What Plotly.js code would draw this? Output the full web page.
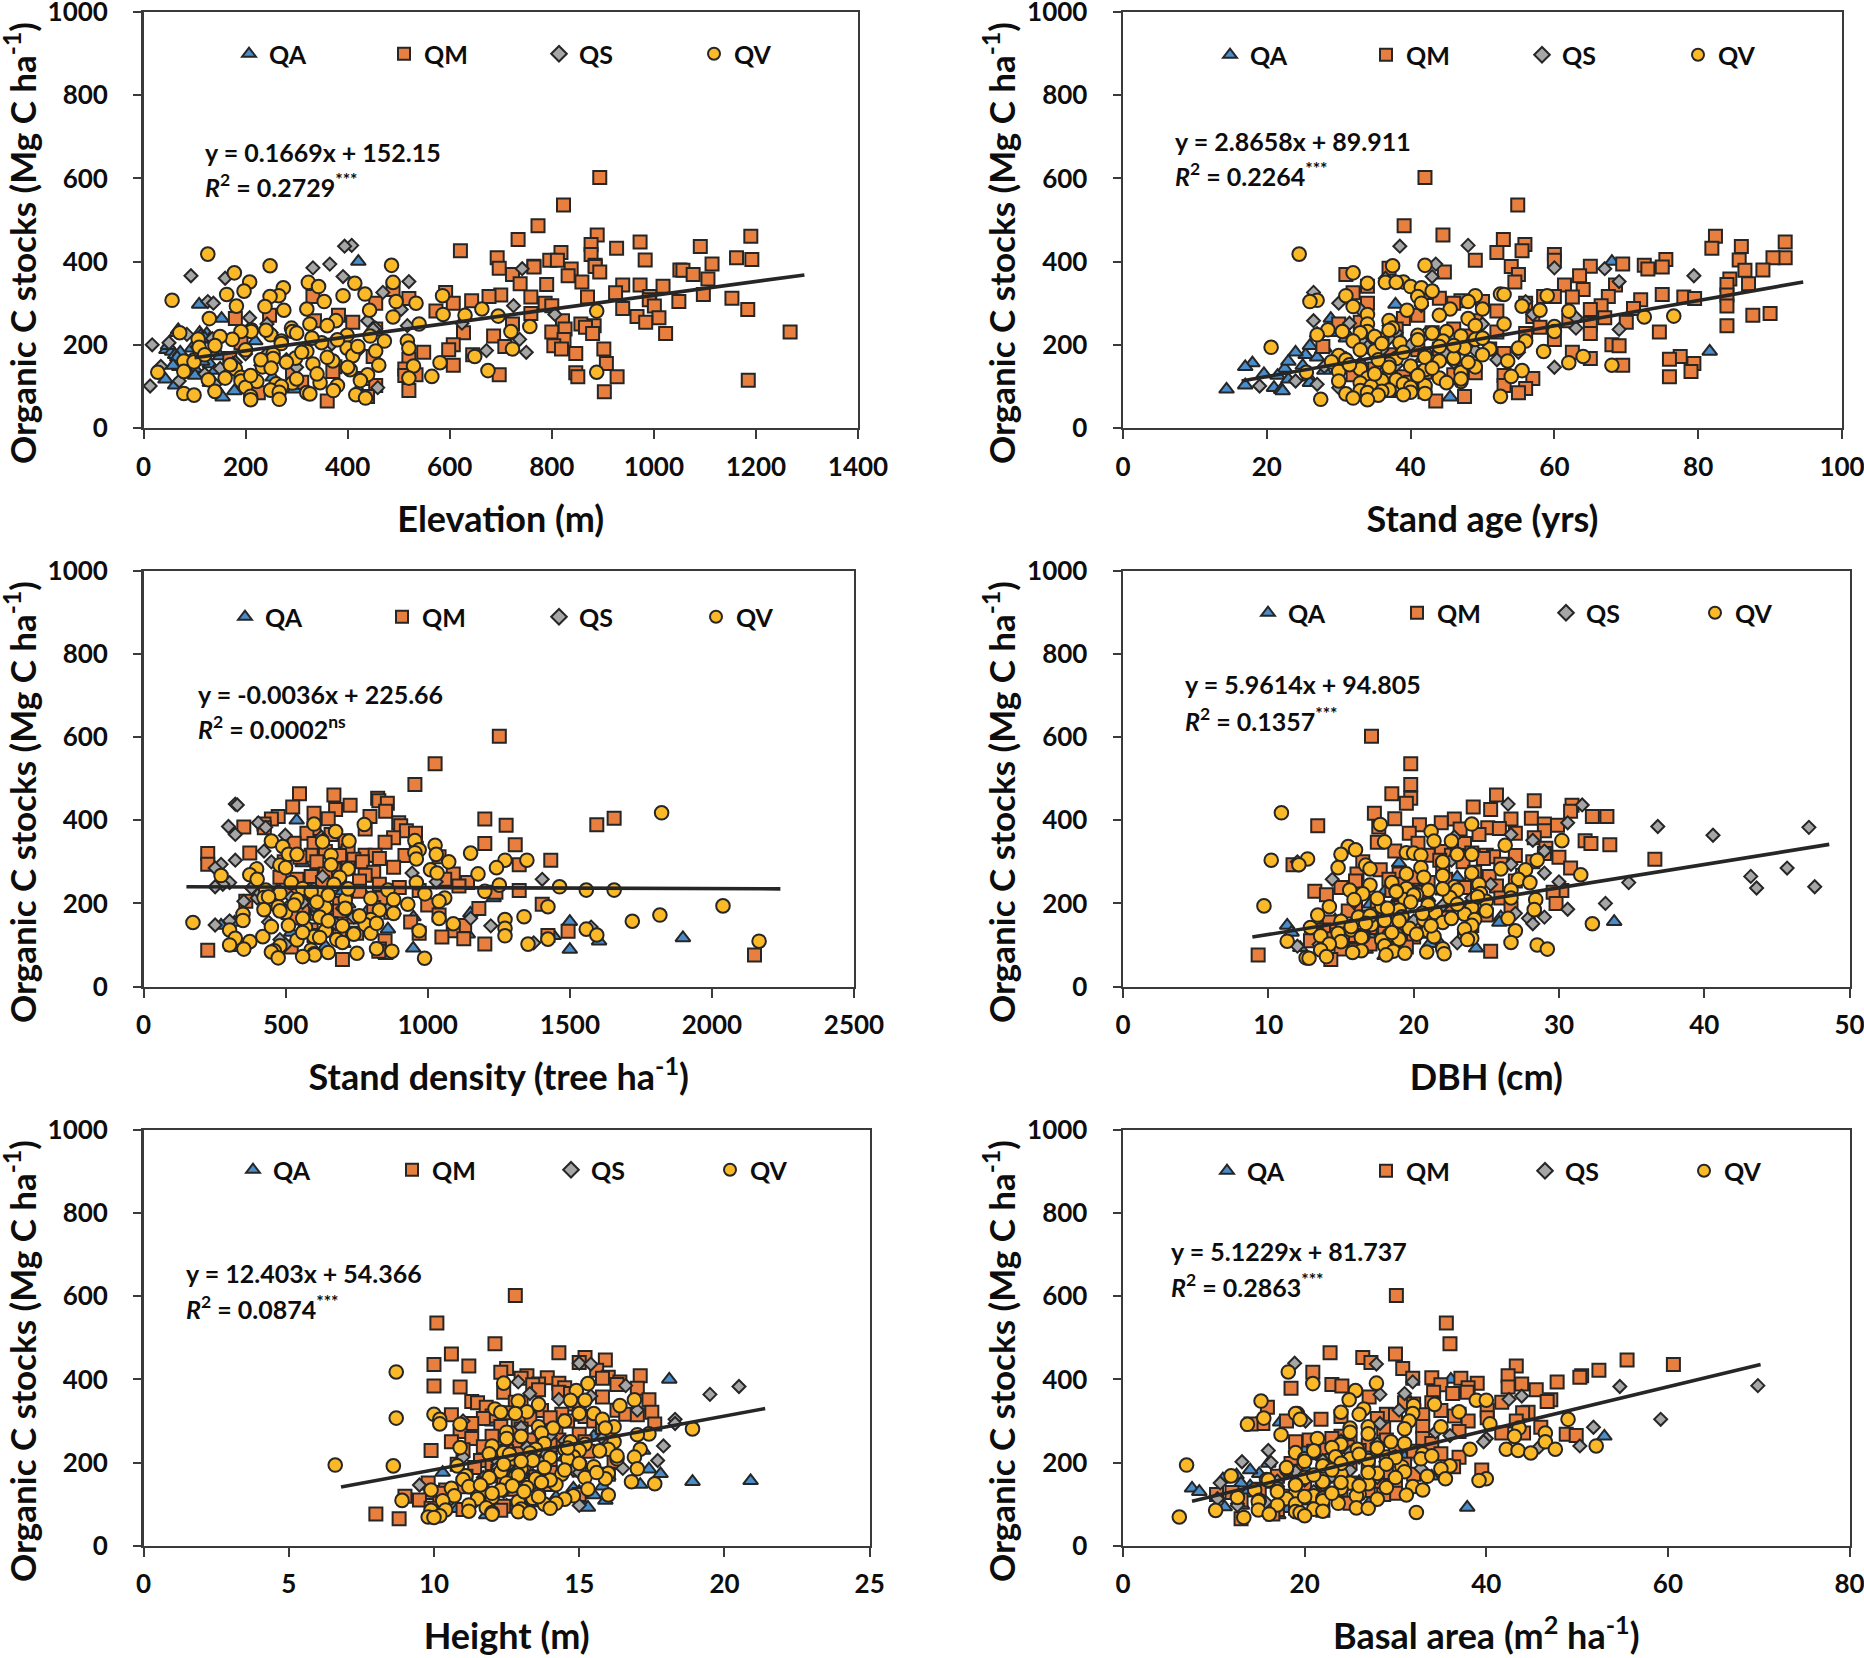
<!DOCTYPE html>
<html><head><meta charset="utf-8">
<script src="https://cdn.plot.ly/plotly-3.0.1.min.js"></script>
<style>html,body{margin:0;padding:0;background:#fff}</style></head>
<body><div id="chart" style="width:1864px;height:1658px"></div>
<script>
// each row: organic C stock, elevation, stand age, stand density, DBH, height, basal area
const QA = [
[400,421,68,539,28.3,18.1,36.1],[297,109,37.9,560,19,12,17.3],[263,153,28.9,620,23,15.5,53],[229,110,31,700,22,17.2,26],
[229,65,29,480,18,13,20],[227,124,27,771,20,14,22],[213,129,33,1232,21,14.5,31],[209,219,35,860,24.8,15,29],
[188,45,27.7,600,16,12.5,20],[184,56,81.6,790,28.3,17.4,18],[176,62,25.4,1150,18,10.3,24],[173,150,36,620,21,17.8,15],
[167,110,41.6,950,26,16,34],[156,80,18,1500,33.8,20.9,22],[154,130,33,320,25.9,18.9,26],[147,70,17,273,11.3,17.1,16],
[143,100,22.5,700,15,15.8,14],[138,140,28,860,13,14.8,7.6],[130,90,19.6,520,11.6,15,8.4],[126,101,21.5,1141,15,11.8,13.6],
[122,253,25.8,1443,17,15.5,10.3],[117,43,23,1898,16.7,14.2,19],[109,130,26,1603,21.7,15.9,21.7],[103,62,17,703,21.1,13.5,27.1],
[97,141,21,640,15.4,12.5,13.1],[93,296,14.4,313,12.2,15.2,11.2],[92,421,22,949,24.3,15.3,37.9],[89,178,22.2,1500,16.7,10.8,18.2],
[74,155,45.5,852,18,11.8,17.1],[236,68,30,540,20.5,14,24],[222,112,34,650,22.5,15,27],[216,120,31,580,19,13.5,21],
[198,48,26,720,17,13,16],[192,95,28,430,18.5,12.8,19],[182,72,24,880,15.5,11.4,14],[170,66,27,510,16.2,13.4,12.5],
[160,115,23,660,14.6,12,11],[150,58,25,790,13.8,11,13]
];
const QM = [
[602,894,42,1252,17.1,12.8,30.1],[536,823,54.9,1026,19.8,10.1,35.6],[486,773,39.1,955,19.8,12.1,36],[464,889,44.5,549,18.5,14.3,22.8],
[461,1190,82.4,670,25.7,10.6,30],[453,734,52.9,824,19.8,15.2,26.4],[447,973,92.1,828,28.3,15.9,55.5],[441,877,55.9,858,19.5,15,27.3],
[436,1091,86,727,30.9,10,60.6],[432,927,81.9,525,24.1,11.2,43.3],[426,621,55.5,676,25.3,12.5,30.8],[422,818,52,852,30.8,15.6,52.4],
[417,877,60,600,17.3,12.3,20.9],[409,693,92.1,474,32.3,17.1,50.5],[409,1162,90.4,797,33.3,13.2,42.4],[405,1192,75.5,1656,28.1,16,50.3],
[404,983,85.7,650,18.7,13.9,34],[403,796,49,450,22.8,15.8,31.9],[403,811,60,1201,26.7,13,37.2],[394,1114,69.5,898,21.9,16.4,47.8],
[391,885,72.5,424,29,14.3,39],[389,765,65,1595,20.4,13.6,43.9],[388,885,54,1276,29.9,16.3,23],[387,765,75,905,13.4,13.4,35],
[384,697,37,353,17.6,10,24.1],[382,838,73,425,25.1,10.9,42.4],[380,1051,89,600,25.9,14.5,38],[379,1057,86.5,780,23.2,17,18.5],
[375,894,44.7,925,29,13.6,45.5],[369,1077,55,957,19.7,12.4,37.9],[369,723,31,575,27,14.3,34.2],[366,832,63.5,660,24.5,14.7,36.3],
[358,1106,84.4,880,28.3,15.8,27.1],[351,859,54.5,710,31.8,17.4,47.1],[347,738,87,850,17.5,11.3,46.7],[345,790,84,530,20.3,12.8,41.7],
[344,939,68.5,600,23.5,13,34],[344,973,61.4,1201,32.2,11.5,31],[341,1018,34,1308,33.5,14.8,32],[333,489,64,960,29.1,11.8,15.9],
[326,592,42.7,720,18.7,16.3,40.1],[325,925,32,640,21.9,13.7,35],[321,1097,75,374,24,17.5,44.6],[320,700,84,226,29,12.6,44],
[316,677,67.5,780,21,15,32],[316,992,60,815,22.6,16.6,29],[316,332,58.5,590,25,14.4,37],[315,759,78,920,27,10.6,33],
[315,870,62.5,690,23,17,30],[312,1153,44,1040,25.5,12,36.5],[311,520,79.5,550,30,15.2,24],[308,991,72,830,24.8,14,40.1],
[306,643,47,740,36.6,11.7,28],[304,1049,50,1433,21.8,13.3,21.8],[300,607,34,610,28.2,12.9,38],[300,787,56,770,23.4,15.5,43.3],
[300,455,46,495,16.5,14.6,18],[294,800,66.5,226,26,11.3,15.4],[293,1001,84,1322,11.7,17.6,14.1],[287,939,71,880,22,12.3,33],
[285,1184,65,720,30.8,15.8,46],[281,573,52,670,17.7,13,28.7],[275,759,90,810,24.2,10.9,37],[271,247,41,640,19,14.2,41.7],
[271,382,87.6,1090,16.1,12.7,44.1],[268,967,57,780,27.5,15,48.8],[265,1010,67,590,25.2,13.8,49.9],[263,180,39,480,20,12,24],
[258,821,62,1060,22.2,16,23],[258,335,49,540,18.3,11.3,33],[254,984,70,760,27,14.3,29],[254,410,33,690,16,13.3,20.5],
[250,857,30,1140,24,10.6,25],[250,723,65,630,21,15.2,19],[246,883,84,830,19,12.8,34],[242,866,58,1110,25.7,14,27],
[238,826,46,520,15,11.7,24.7],[238,455,38,900,23.5,16,30],[231,1267,74.6,1322,30.2,13.4,22],[231,800,52,970,18.5,11,28],
[229,627,43,760,13.2,9.9,26],[227,1023,65,1240,29.6,15.3,32],[227,880,56,590,20.6,12.5,21],[221,686,48,420,14,13,35],
[213,824,60,840,26,14.7,37],[205,191,36,360,17.5,11.6,23],[200,607,68,690,29.8,16.2,25],[198,804,69,1403,22.5,12,18.5],
[196,708,27.8,1000,16,10.8,31],[190,902,44,810,24,14,36.4],[190,819,51,560,19,13.1,23],[188,598,41,1180,26.7,11.4,27],
[182,549,62.5,690,15.5,15,39.5],[179,847,53,870,21,12.2,19],[176,645,37,610,18,14,29],[172,450,77.5,1040,25,16,32],
[167,169,65,740,16.7,11.1,17],[165,520,76,520,22,13.5,22],[155,907,79.4,940,14.2,12.4,28],[151,607,69.5,660,20,9.8,25],
[147,375,47,1130,24,14,30],[142,512,35,800,17,11,20],[136,371,79,590,13.8,12.7,15],[134,292,42,1090,19,10.4,24],
[133,847,49,1494,21,13.3,27],[128,697,32,970,15.5,11.5,12],[128,534,46,750,18,9.9,22],[126,512,53,690,13.3,10.3,30],
[123,851,76,1423,23.5,15,28.7],[123,928,39,600,16,12,10.3],[119,430,57,1050,20,9,18],[115,1185,36,1127,14.5,13.1,20],
[110,310,40,850,12.9,9.5,13],[102,455,53,1201,17,10.2,25],[95,260,56,520,19.5,12.4,15],[90,520,37,830,15,9.9,19],
[87,903,42,226,16,11,17],[85,225,55,828,25.3,12.3,22],[76,439,47.5,2150,9.3,8,16.5],[65,360,43.5,700,14.3,8.8,13]
];
const QS = [
[439,408,48,323,26.5,15,18.9],[437,394,38.5,330,31.6,15.4,27.9],[394,365,43.5,404,30.6,12.9,31.9],[385,332,60,299,36.8,16.6,69.9],
[383,742,67,430,47.2,20.5,54.7],[366,93,79.4,323,26.7,13.3,31],[364,391,43,499,40.6,19.5,28.3],[360,160,36.5,626,22.8,15.4,43.9],
[352,520,69,630,28.2,14.3,42.5],[326,469,26.5,424,29,17,30.4],[304,126,56,323,22.6,18.3,59.2],[300,137,30,450,12,11,20.1],
[294,725,41.5,273,26.7,18.3,28.3],[285,505,33,252,45.7,13,51.8],[273,806,57,945,29,13.6,34.4],[265,208,63,630,43.2,14,36],
[258,439,26.5,1403,14.4,15.8,40],[252,624,31.5,1030,30,14.5,24],[250,242,50,303,34.8,12.5,39.7],[246,517,37,279,25.3,16,28],
[240,455,63,252,47.6,17.9,50.3],[237,450,69,380,43.6,13.2,45.8],[229,250,38,470,20,14.7,16],[213,737,46,400,24,11,26],
[205,50,33.5,353,21,17.7,22],[202,369,45,560,15.9,12.2,13.1],[200,17,40,520,33.2,13.7,16.3],[188,422,36,700,18.6,12.2,18.1],
[186,672,49,860,30.6,16.5,32.8],[182,750,55,640,21.1,14.8,25],[176,240,42,610,27,15,23.8],[167,100,31,740,29,13,23],
[164,280,52,1151,27.9,11.7,28],[158,180,46,303,20,14.2,20],[151,230,38,676,28.2,11.6,10.7],[148,34,28,252,15.8,13.4,26],
[146,300,60,1222,17,9.5,22],[143,150,30,1575,19.4,12.5,17],[113,70,24,480,18.3,10.6,10.4],[105,140,27,1373,23,11.4,15.7],
[101,13,19,500,13.5,13,12.6],[97,459,30,363,12,15,12.6],[225,85,42,410,24.5,13.8,25],[215,135,37,520,20,14.6,30],
[195,105,34,600,22,13,24],[178,200,45,350,24,12.8,19],[155,175,33,440,19,14,17],[130,120,36,580,21,12.4,21]
];
const QV = [
[418,126,24.5,1823,10.9,8.7,18.2],[391,486,42,600,24,12.4,27.9],[390,248,37.5,777,17.7,15.3,20.9],[373,178,32,676,21.2,14.9,25.6],
[351,208,39,955,30.2,16.9,24.9],[350,489,36.5,450,21.4,14.7,38.9],[350,323,38,723,22.6,15.2,40],[348,414,34,630,18,12.9,15.2],
[340,343,40,1026,26.3,13.6,34.3],[337,274,41.5,490,15.5,16.4,32],[329,197,43,970,16,12.1,26.5],[322,434,52.5,955,19.5,13.2,37],
[321,163,53,1151,20,12.3,24],[318,391,31,1030,15,15.5,19.2],[318,265,49,510,23,12.8,19],[316,248,41,660,20.5,10,26],
[318,586,59,540,24,15,31.9],[307,56,27,960,12.7,8.7,15.5],[304,354,48,1349,10.2,10.2,19.5],[304,495,26,1272,28.5,15.8,49],
[300,534,41.5,1074,22,14.5,31.5],[293,182,55.5,660,12.1,10.2,40.4],[292,238,32,480,16.7,10.9,13.7],[286,320,50,1242,14.8,13.6,27],
[286,663,45.5,500,20.5,16.2,35],[283,275,39.5,398,26,15.9,43.6],[283,443,58,720,17,14.1,25],[281,888,62,1010,27.7,18.9,31],
[273,587,34,1033,24,12.5,25],[271,630,44,1177,19.5,13.7,46.5],[269,695,76.6,374,31.5,17.4,27],[267,489,72.5,273,22,17,17.4],
[263,129,48,690,20.7,13,43.1],[258,377,37,400,27.2,12.5,21.4],[250,540,34,520,28,16.2,46.5],[250,326,53,960,18.5,14.7,29.5],
[244,757,60,1252,17,15.2,24],[246,360,49,670,24.5,13.8,31],[240,290,37.5,1464,22.8,12,52.1],[236,211,28.5,560,19.5,10.9,23],
[232,720,60,1656,26.7,17.1,47.6],[232,292,45,860,23,14.5,38.2],[232,211,34,430,15.6,16,42.2],[232,191,30.5,1558,21,13.5,25.8],
[229,71,33,1201,18.8,15,43.5],[224,249,27,480,24.6,12.4,19],[223,399,41,990,16.5,13.3,44.9],[221,444,47,620,20.2,11.9,33],
[214,107,36,424,22.5,14.8,23.4],[213,174,49,1060,26.7,16.9,29],[209,270,44.5,710,15.9,16.3,25],[209,472,32,540,28.4,12.7,20],
[209,517,56,880,19.4,14.6,32.8],[205,349,38.5,1040,25,13.4,27],[194,109,20.6,2039,9.7,6.6,7],[192,399,47.5,474,14.2,8.6,22],
[192,520,55,1423,17.8,10.8,36],[190,723,51,640,24,15.5,30.7],[185,455,35,424,28.3,17,35],[184,320,58.5,830,19,13,18],
[178,254,42,500,21.5,12.3,31],[172,649,64,1817,13.4,14.4,24],[174,410,30,350,23.5,16,28],[168,298,46,1339,19.2,11.1,11.9],
[167,254,38,620,16.2,12.8,33.5],[164,99,31,1040,26.5,15.2,20],[161,79,53.5,1272,20.7,15.9,35.5],[161,371,44,800,24.2,13.5,40],
[159,99,29,350,18,11,15.8],[157,581,62,1720,15,14,39.2],[154,332,37,174,22,16.8,22],[151,461,68,1090,32.3,12.5,25],
[149,529,40,780,17.1,17.6,27],[147,233,49,510,24,14.2,19],[142,180,33,570,12.9,11.2,31.9],[140,405,42,1272,19.7,13.2,29],
[138,675,55.5,1558,23.5,10.6,24],[136,79,30,303,15.7,15.3,17],[134,28,25.5,640,21,9.9,14.5],[134,888,47,970,27,12.3,33],
[128,439,37,800,14.8,11.8,19],[124,565,54,1595,18.3,13.6,26],[122,191,41,1272,13.6,16,31.2],[120,520,34,600,21.4,14.8,21],
[120,160,44,420,16.5,10.7,25.7],[116,127,38,323,24,12,12.6],[114,425,36,1423,19,13.4,22],[113,191,30,680,23.7,11.5,18],
[112,222,47,540,17.8,14.5,28],[109,346,45,2166,11.3,8.9,15],[108,292,33,374,15,10.3,22],[106,260,39,700,26.7,12.9,14.9],
[102,380,42,1353,14.2,14.2,23.7],[100,270,34.5,303,28.5,13.8,19],[98,200,40,480,18,11.2,17],[91,249,37,820,22,11.8,25.7],
[90,372,33,353,29.2,14,27],[88,140,36,590,13.6,13,21],[86,266,40,460,16.4,10.4,14.9],[85,320,34,874,18.6,9.9,10.2],
[83,79,42,450,20.9,11.2,22],[82,326,31,650,15.8,12.9,19],[80,416,39,751,19.4,12,32.3],[79,99,35.5,600,22.1,13.3,19.5],
[76,210,52.5,602,18.1,12,16.1],[72,435,32,560,14,10.2,20],[69,266,27.5,474,12.6,9.8,6.2],[68,210,34,989,12.8,10,13.3],
[235,240,37,720,22,14.6,28],[228,300,43,590,18.8,15.7,21],[220,150,35,650,20,12.6,26],[216,330,50,440,24.4,16.3,34],
[212,380,41,800,17.5,14,30],[203,270,36,610,19.8,13,20],[198,140,46,930,23,15,24],[196,420,44,530,21,12.4,29],
[188,200,33,710,18.2,13.8,18],[182,310,39,480,25,14.5,23],[176,120,50,880,20.6,15.6,27],[170,360,42,760,17,12.9,21],
[164,230,35.5,560,22.6,11.9,30],[158,280,48,650,19,14,16],[152,170,31.5,820,16.7,13.7,24],[146,400,37,700,21.2,11.6,19],
[144,250,43,450,15.7,12.7,26],[130,340,35,560,18.5,13.1,17],[126,210,41,740,20.2,12,23],[118,300,47,620,16.4,13.6,20]
];

const panels = [
 {label:"Elevation (m)", max:1400, dtick:200, box:[143.5,858,12,428], lineX:[100,1295], lineY:[169,368],
  eq:"y = 0.1669x + 152.15", r2:"<i>R</i><sup>2</sup> = 0.2729<sup>***</sup>", eqPos:[203,152,185], legend:[251,54,155]},
 {label:"Stand age (yrs)", max:100, dtick:20, box:[1123,1842,12,428], lineX:[16.5,94.6], lineY:[113,351],
  eq:"y = 2.8658x + 89.911", r2:"<i>R</i><sup>2</sup> = 0.2264<sup>***</sup>", eqPos:[1173,141,174], legend:[1232,55,156]},
 {label:"Stand density (tree ha<sup>-1</sup>)", max:2500, dtick:500, box:[143.5,854,571,986.5], lineX:[151,2241], lineY:[240,235],
  eq:"y = -0.0036x + 225.66", r2:"<i>R</i><sup>2</sup> = 0.0002<sup>ns</sup>", eqPos:[196,694,728], legend:[247,617,157]},
 {label:"DBH (cm)", max:50, dtick:10, box:[1123,1849.6,571,986.5], lineX:[8.9,48.6], lineY:[119,342],
  eq:"y = 5.9614x + 94.805", r2:"<i>R</i><sup>2</sup> = 0.1357<sup>***</sup>", eqPos:[1183,684,719], legend:[1270,613,149]},
 {label:"Height (m)", max:25, dtick:5, box:[143.5,869.7,1130,1545.7], lineX:[6.8,21.4], lineY:[141,330],
  eq:"y = 12.403x + 54.366", r2:"<i>R</i><sup>2</sup> = 0.0874<sup>***</sup>", eqPos:[184,1273,1307], legend:[255,1170,159]},
 {label:"Basal area (m<sup>2</sup> ha<sup>-1</sup>)", max:80, dtick:20, box:[1123,1849.6,1130,1545.7], lineX:[7.6,70.2], lineY:[107,436],
  eq:"y = 5.1229x + 81.737", r2:"<i>R</i><sup>2</sup> = 0.2863<sup>***</sup>", eqPos:[1169,1251,1285], legend:[1229,1171,159]}
];
const speciesNames = ["QA","QM","QS","QV"];
const speciesRows = [QA,QM,QS,QV];
const speciesSymbols = ["triangle-up","square","diamond","circle"];
const speciesColors = ["#4A8DCB","#E97F3F","#A6A6A6","#FBB928"];
const speciesSizes = [13,13,10,13.6];
const yTicks = [0,200,400,600,800,1000];
const yTitle = "Organic C stocks (Mg C ha<sup>-1</sup>)";

const W = 1864, H = 1658;
const FONT = "Lato, 'Open Sans', sans-serif";
const INK = "#0d0d0d", FRAME = "#3a3a3a";
const traces = [], annotations = [], layout = {
  width:W, height:H, margin:{l:0,r:0,t:0,b:0}, paper_bgcolor:"#fff", plot_bgcolor:"#fff",
  font:{family:FONT, color:INK, size:26, weight:700}, hovermode:false
};
panels.forEach((p,i)=>{
  const n = i===0 ? "" : String(i+1);
  const xName = "x"+n, yName = "y"+n, legName = "legend"+n;
  speciesNames.forEach((name,s)=>{
    traces.push({type:"scatter", mode:"markers", name, xaxis:xName, yaxis:yName, legend:legName,
      x:speciesRows[s].map(r=>r[i+1]), y:speciesRows[s].map(r=>r[0]),
      marker:{symbol:speciesSymbols[s], color:speciesColors[s], size:speciesSizes[s], line:{color:"#262626", width:2}}});
  });
  traces.push({type:"scatter", mode:"lines", xaxis:xName, yaxis:yName, showlegend:false,
    x:p.lineX, y:p.lineY, line:{color:"#262626", width:3.6}});
  const [l,r,t,b] = p.box;
  layout["xaxis"+n] = {domain:[l/W,r/W], anchor:yName, range:[0,p.max], dtick:p.dtick, tick0:0, showgrid:false, zeroline:false,
    showline:true, mirror:true, linecolor:FRAME, linewidth:2.4, ticks:"outside", ticklen:9, tickwidth:2, tickcolor:FRAME,
    ticklabeloverflow:"allow", ticklabelstandoff:5,
    tickfont:{family:FONT,size:26,weight:700,color:INK}, title:{text:p.label, standoff:26, font:{family:FONT,size:36,weight:700,color:INK}}};
  layout["yaxis"+n] = {domain:[1-b/H,1-t/H], anchor:xName, range:[0,1000], tickvals:yTicks, showgrid:false, zeroline:false,
    showline:true, mirror:true, linecolor:FRAME, linewidth:2.4, ticks:"outside", ticklen:8, tickwidth:2, tickcolor:FRAME,
    ticklabeloverflow:"allow", ticklabelstandoff:20,
    tickfont:{family:FONT,size:26,weight:700,color:INK}};
  layout[legName] = {x:(p.legend[0]-22)/W, y:1-p.legend[1]/H, xanchor:"left", yanchor:"middle", orientation:"h",
    bgcolor:"rgba(0,0,0,0)", borderwidth:0, entrywidth:p.legend[2]-45, entrywidthmode:"pixels", itemsizing:"constant",
    font:{family:FONT,size:25,weight:700,color:INK}};
  const ann = (text,xpx,ypx,size,extra)=>annotations.push(Object.assign({text, xref:"paper", yref:"paper", x:xpx/W, y:1-ypx/H,
    showarrow:false, xanchor:"left", yanchor:"middle", font:{family:FONT,size,weight:700,color:INK}},extra||{}));
  ann(p.eq,p.eqPos[0],p.eqPos[1],25);
  ann(p.r2,p.eqPos[0],p.eqPos[2],25);
  ann(yTitle, i%2===0?20:999, t+231, 35, {textangle:-90, xanchor:"center"});
});
layout.annotations = annotations;
Plotly.newPlot("chart", traces, layout, {staticPlot:true, displayModeBar:false});
</script></body></html>
